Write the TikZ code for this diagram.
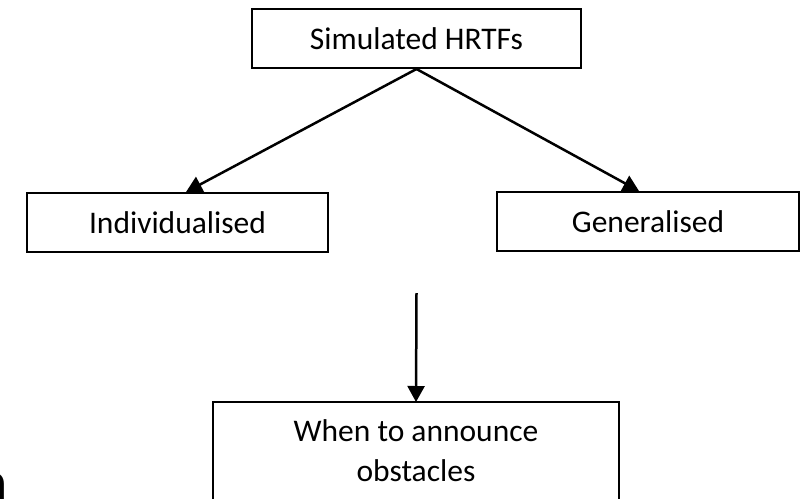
\documentclass[tikz,border=0pt]{standalone}
\usepackage{fontspec}
\setmainfont{Carlito}
\usetikzlibrary{arrows.meta,calc}
\tikzset{
  box/.style={draw=black, line width=2pt, fill=white, inner sep=0pt, align=center,
    font=\fontsize{31.5}{40}\selectfont},
  conn/.style={line width=2.5pt, -{Triangle[length=16pt,width=17pt]}}
}
\begin{document}
\begin{tikzpicture}[x=1pt,y=-1pt]
\useasboundingbox (0,0) rectangle (808,498);
\node[box, minimum width=329pt, minimum height=59pt] (top) at (416.5,38.5) {Simulated HRTFs};
\node[box, minimum width=301pt, minimum height=59pt] (ind) at (177.5,222.5) {Individualised};
\node[box, minimum width=302pt, minimum height=59pt] (gen) at (648,221.5) {Generalised};
\node[box, draw=none, fill=none, minimum width=404pt, minimum height=96pt, anchor=north] (when) at (416,402) {When to announce\\obstacles};
\draw[line width=2pt] (when.north west) rectangle ($(when.south east)+(0,30)$);
\coordinate (start) at (416.5,293);
\draw[conn] (top.south) -- ([xshift=8.5pt]ind.north);
\draw[conn] (top.south) -- ([xshift=-9pt]gen.north);
\draw[conn] (start) -- (when.north);
\node[anchor=base west, inner sep=0pt, font=\fontsize{60}{60}\selectfont] (frag) at (-24,502) {n};
\end{tikzpicture}
\end{document}
